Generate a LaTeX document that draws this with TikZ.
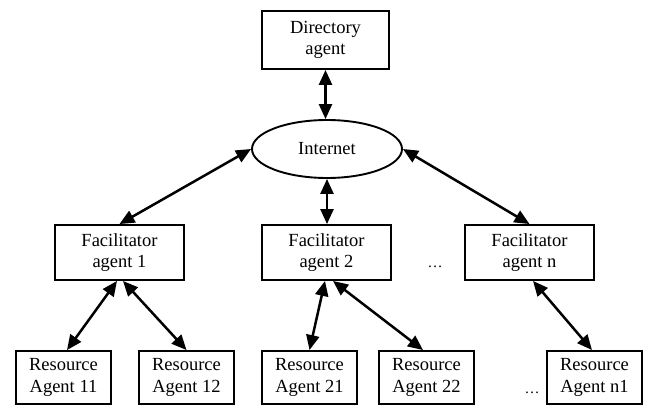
\documentclass[tikz,border=0pt]{standalone}
\usepackage{fontspec}
\setmainfont{Liberation Serif}
\usetikzlibrary{arrows.meta,calc,shapes.geometric}
\begin{document}
\begin{tikzpicture}[x=1pt,y=-1pt,
  agentbox/.style={draw,line width=1.9pt,rectangle,inner sep=0pt,align=center,
    font=\fontsize{18.5}{21.5}\selectfont},
  link/.style={line width=2.5pt,{Triangle[length=15pt,width=13pt]}-{Triangle[length=15pt,width=13pt]}},
  dots/.style={font=\fontsize{15}{16}\selectfont,inner sep=0pt}]
\useasboundingbox (0,0) rectangle (645,406);

% top level
\node[agentbox,minimum width=127pt,minimum height=58pt] (dir) at (325.5,40) {Directory\\agent};
\node[draw,ellipse,line width=1.9pt,minimum width=150pt,minimum height=58pt,inner sep=0pt,
  font=\fontsize{18.5}{21.5}\selectfont] (inet) at (327,149) {Internet};

% facilitators
\node[agentbox,minimum width=129pt,minimum height=55pt] (f1) at (119.5,252.5) {Facilitator\\agent 1};
\node[agentbox,minimum width=129pt,minimum height=55pt] (f2) at (326.5,252.5) {Facilitator\\agent 2};
\node[agentbox,minimum width=129pt,minimum height=55pt] (fn) at (529.5,252.5) {Facilitator\\agent n};

% resource agents
\node[agentbox,minimum width=95pt,minimum height=53pt] (r11) at (63.5,377.5) {Resource\\Agent 11};
\node[agentbox,minimum width=95pt,minimum height=53pt] (r12) at (186.5,377.5) {Resource\\Agent 12};
\node[agentbox,minimum width=95pt,minimum height=53pt] (r21) at (309.5,377.5) {Resource\\Agent 21};
\node[agentbox,minimum width=95pt,minimum height=53pt] (r22) at (426.5,377.5) {Resource\\Agent 22};
\node[agentbox,minimum width=95pt,minimum height=53pt] (rn1) at (594.5,377.5) {Resource\\Agent n1};

\node[dots] (d1) at (435,267) {\ldots};
\node[dots] (d2) at (532,393) {\ldots};

% links
\draw[link] (dir.south) -- (dir.south |- inet.north);
\draw[link] (inet.west) -- (f1.north);
\draw[link] (inet.east) -- (fn.north);
\draw[link] (inet.south) -- (inet.south |- f2.north);
\draw[link] ($(f1.south)+(-2.5,0)$) -- ($(r11.north)+(3.5,0)$);
\draw[link] ($(f1.south)+(3.5,0)$) -- (r12.north);
\draw[link] ($(f2.south)+(-1.5,0)$) -- (r21.north);
\draw[link] ($(f2.south)+(6.5,0)$) -- ($(r22.north)+(-3.5,0)$);
\draw[link] ($(fn.south)+(3.5,0)$) -- ($(rn1.north)+(-2.5,0)$);
\end{tikzpicture}
\end{document}
